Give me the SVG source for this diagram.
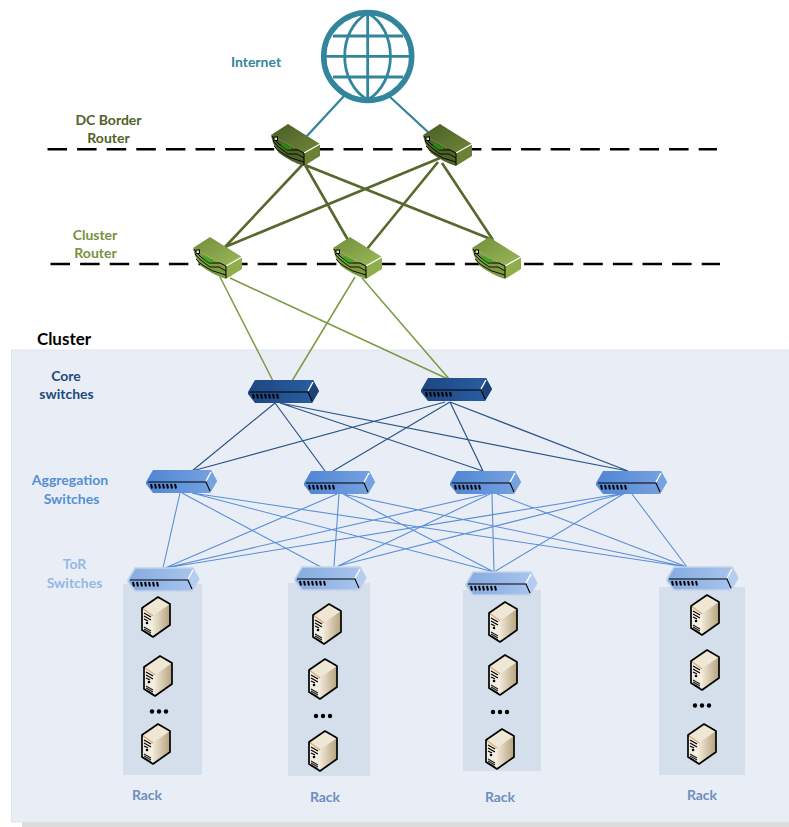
<svg xmlns="http://www.w3.org/2000/svg" width="789" height="827" viewBox="0 0 789 827">
<style>
text{font-family:Lato,"Open Sans","Liberation Sans",sans-serif;font-weight:700;text-anchor:middle;font-size:14px}
.dash{stroke:#000;stroke-width:2.6;stroke-dasharray:19.5 10.100;fill:none}
.l0{stroke:#31859c;stroke-width:2.300;fill:none}
.l1{stroke:#56682c;stroke-width:2.600;fill:none}
.l2{stroke:#7b9a42;stroke-width:1.500;fill:none}
.l3{stroke:#2b5487;stroke-width:1.200;fill:none}
.l4{stroke:#5a8ed8;stroke-width:1.100;fill:none}
.rack{fill:#d5dfeb}
.core{--f:url(#sc);--s:#1c4278;--h:none}
.agg{--f:url(#sa);--s:#76a2e2;--h:none}
.tor{--f:url(#st);--s:#b4cdf0;--h:#c5d4e8}
</style>
<defs>
<linearGradient id="gd" x1="0" y1="0" x2="1" y2="1"><stop offset="0" stop-color="#4a5d26"/><stop offset="1" stop-color="#6f8738"/></linearGradient>
<linearGradient id="gl" x1="0" y1="0" x2="1" y2="1"><stop offset="0" stop-color="#718d3a"/><stop offset="1" stop-color="#9cb95a"/></linearGradient>
<linearGradient id="sc" x1="0" y1="0" x2="1" y2="0"><stop offset="0" stop-color="#1d477f"/><stop offset="1" stop-color="#2a5ea3"/></linearGradient>
<linearGradient id="sa" x1="0" y1="0" x2="1" y2="0"><stop offset="0" stop-color="#4f85d3"/><stop offset="1" stop-color="#79a3e0"/></linearGradient>
<linearGradient id="st" x1="0" y1="0" x2="1" y2="0"><stop offset="0" stop-color="#86abe0"/><stop offset="1" stop-color="#a9c6ee"/></linearGradient>
<linearGradient id="sv" x1="0" y1="0" x2="1" y2="0"><stop offset="0" stop-color="#f0e8d6"/><stop offset="1" stop-color="#b5a27c"/></linearGradient>
<g id="waves" fill="none" stroke="#000"><path d="M1 12Q3 16 8 20T16 26H27L33 29V41" stroke-width="1"/><path d="M2 17Q5 21 9 24T17 30H26L33 34" stroke-width=".9"/><path d="M3 22Q6 26 11 29T20 34L33 38" stroke-width=".9"/><path d="M11 19v5M13 20v5M15 21v5M17 22v4M19 22v4" stroke="#00b000" stroke-width=".9"/><rect x="3" y="13" width="3.500" height="3.500" fill="#cfe8c0" stroke-width="1"/></g>
<symbol id="rd" viewBox="0 0 51 43" overflow="visible">
<path d="M0 11 17 0 49 20 33 29Z" fill="url(#gd)"/><path d="M0 11 33 29V42Q20 38 8 29Q2 22 0 11Z" fill="#4f6228"/><path d="M33 29 49 20V32L33 42Z" fill="#6b8236"/><path d="M33 29 49 20" stroke="#fff" stroke-width="1.200"/><use href="#waves"/></symbol>
<symbol id="rl" viewBox="0 0 51 43" overflow="visible">
<path d="M0 11 17 0 49 20 33 29Z" fill="url(#gl)"/><path d="M0 11 33 29V42Q20 38 8 29Q2 22 0 11Z" fill="#7d9a42"/><path d="M33 29 49 20V32L33 42Z" fill="#8fad4d"/><path d="M33 29 49 20" stroke="#fff" stroke-width="1.200"/><use href="#waves"/></symbol>
<g id="ports"><path d="M5 14l1 4.500M9 14l1 4.500M13 14l1 4.500M17 14l1 4.500M21 14l1 4.500M25 14l1 4.500M29 14l1 4.500" stroke="#000" stroke-width="2"/><path d="M2 12H60L64 21" stroke="#000" stroke-width="1.100" fill="none"/><path d="M60 11 65 2" stroke="#fff" stroke-width="1.400"/></g>
<symbol id="sw" viewBox="0 0 71 24" overflow="visible"><path d="M0 12 7 0H65L71 11 64 23H7L0 14Z" style="fill:var(--f);stroke:var(--h);stroke-width:1.500"/><path d="M60 12 65 0 71 11 64 23Z" style="fill:var(--s)"/><use href="#ports"/></symbol>
<symbol id="server" viewBox="0 0 30 40" overflow="visible">
<path d="M1 11 17 0 29 7 12 19Z" fill="#efe6d3"/>
<path d="M12 19 29 7V28L12 40Z" fill="url(#sv)"/>
<path d="M1 11 12 19V40L1 33Z" fill="#f3eee2"/>
<path d="M1 11 12 19" stroke="#d9a878" stroke-width="1.200"/>
<path d="M3 16 10 20M3 19 10 23M3 22 7 24" stroke="#000" stroke-width="1.200"/><circle cx="6" cy="26" r="1.300" fill="#000"/><path d="M3 30 10 34M3 32 10 36M3 34 10 38" stroke="#222" stroke-width="1.200"/>
<path d="M1 11 17 0 29 7V28L12 40 1 33Z" fill="none" stroke="#000" stroke-width="1.700" stroke-linejoin="round"/></symbol>
</defs>
<g id="background"><rect x="22" y="362" width="767" height="465" fill="#dcdcdc"/><rect x="11.500" y="350" width="778" height="472" fill="#e9eef6" stroke="#dde4ee" stroke-width="1"/>
<rect class="rack" x="123" y="584" width="79" height="191"/><rect class="rack" x="288" y="583" width="82" height="193"/><rect class="rack" x="463" y="590" width="78" height="181"/><rect class="rack" x="659" y="587" width="86" height="188"/></g>
<g id="dashes"><path class="dash" d="M47.500 149.300H717M50.500 264H720"/></g>
<g id="connectors">
<path class="l0" d="M344 96 306 137M389 96 429 133"/>
<path class="l1" d="M304 163 225 247M305 165 348 240M305 165 493 240M440 158 225 247M438 162 367 249M442 163 493 240"/>
<path class="l2" d="M220 277 273 381M230 278 450 380M355 277 292 381M362 278 450 380"/>
<path class="l3" d="M275 403 192 471M275 403 325 471M280 403 483 471M280 403 628 471M445 402 192 471M450 402 333 471M450 402 483 471M450 402 628 471"/>
<path class="l4" d="M180 493 163 568M182 493 321 567M192 493 494 572M192 493 687 567M337 494 165 568M339 494 334 566M343 494 494 572M343 494 687 567M487 494 165 568M490 494 338 566M492 494 494 572M497 494 687 567M620 494 165 568M622 494 338 566M625 493 494 572M632 494 687 567"/>
</g>
<g id="internet"><circle cx="367.700" cy="56.400" r="44" fill="#fff" stroke="#31859c" stroke-width="5.500"/><path fill="none" stroke="#31859c" stroke-width="2.800" d="M367.700 12V100M324 56.400H412M333 36H403M333 77H403M367.700 13C337 30 337 82 367.700 100C398 82 398 30 367.700 13Z"/></g>
<g id="border-router-1"><use href="#rd" x="271" y="124" width="51" height="43"/></g>
<g id="border-router-2"><use href="#rd" x="423" y="124" width="51" height="43"/></g>
<g id="cluster-router-1"><use href="#rl" x="193" y="237" width="51" height="43"/></g>
<g id="cluster-router-2"><use href="#rl" x="333" y="237" width="51" height="43"/></g>
<g id="cluster-router-3"><use href="#rl" x="472" y="237" width="51" height="43"/></g>
<g id="core-1" class="core"><use href="#sw" x="248" y="380" width="71" height="24"/></g>
<g id="core-2" class="core"><use href="#sw" x="421" y="378" width="71" height="24"/></g>
<g id="agg-1" class="agg"><use href="#sw" x="146" y="470" width="71" height="24"/></g>
<g id="agg-2" class="agg"><use href="#sw" x="304" y="471" width="71" height="24"/></g>
<g id="agg-3" class="agg"><use href="#sw" x="450" y="471" width="71" height="24"/></g>
<g id="agg-4" class="agg"><use href="#sw" x="596" y="471" width="71" height="24"/></g>
<g id="tor-1" class="tor"><use href="#sw" x="128" y="568" width="71" height="24"/></g>
<g id="tor-2" class="tor"><use href="#sw" x="295" y="567" width="71" height="24"/></g>
<g id="tor-3" class="tor"><use href="#sw" x="466" y="572" width="71" height="24"/></g>
<g id="tor-4" class="tor"><use href="#sw" x="667" y="567" width="71" height="24"/></g>
<g id="servers">
<use href="#server" x="141" y="597" width="30" height="40"/><use href="#server" x="143" y="656" width="30" height="40"/><use href="#server" x="141" y="724" width="30" height="40"/>
<use href="#server" x="312" y="604" width="30" height="40"/><use href="#server" x="308" y="659" width="30" height="40"/><use href="#server" x="308" y="731" width="30" height="40"/>
<use href="#server" x="488" y="602" width="30" height="40"/><use href="#server" x="488" y="655" width="30" height="40"/><use href="#server" x="485" y="729" width="30" height="40"/>
<use href="#server" x="690" y="595" width="30" height="40"/><use href="#server" x="690" y="650" width="30" height="40"/><use href="#server" x="687" y="724" width="30" height="40"/>
<g fill="#000"><circle cx="152" cy="711.500" r="2.200"/><circle cx="159" cy="711.500" r="2.200"/><circle cx="166" cy="711.500" r="2.200"/><circle cx="316" cy="716" r="2.200"/><circle cx="323" cy="716" r="2.200"/><circle cx="330" cy="716" r="2.200"/><circle cx="493" cy="712" r="2.200"/><circle cx="500" cy="712" r="2.200"/><circle cx="507" cy="712" r="2.200"/><circle cx="695" cy="705.500" r="2.200"/><circle cx="702" cy="705.500" r="2.200"/><circle cx="709" cy="705.500" r="2.200"/></g>
</g>
<g id="labels">
<text x="256" y="67" fill="#31859c">Internet</text>
<text x="108.500" y="125" fill="#4f6228">DC Border</text><text x="108.500" y="143" fill="#4f6228">Router</text>
<text x="95" y="240" fill="#76923c">Cluster</text><text x="95.500" y="258" fill="#76923c">Router</text>
<text x="64" y="344.500" fill="#000" style="font-size:17px">Cluster</text>
<text x="66" y="381" fill="#1f497d">Core</text><text x="66.500" y="399" fill="#1f497d">switches</text>
<text x="70" y="485" fill="#558ed5">Aggregation</text><text x="71.500" y="504" fill="#558ed5">Switches</text>
<text x="74.500" y="569" fill="#95b7e6">ToR</text><text x="74.500" y="588" fill="#95b7e6">Switches</text>
<text x="147" y="800" fill="#6c8ebf">Rack</text><text x="325" y="802" fill="#6c8ebf">Rack</text><text x="500" y="802" fill="#6c8ebf">Rack</text><text x="702" y="800" fill="#6c8ebf">Rack</text>
</g>
</svg>
